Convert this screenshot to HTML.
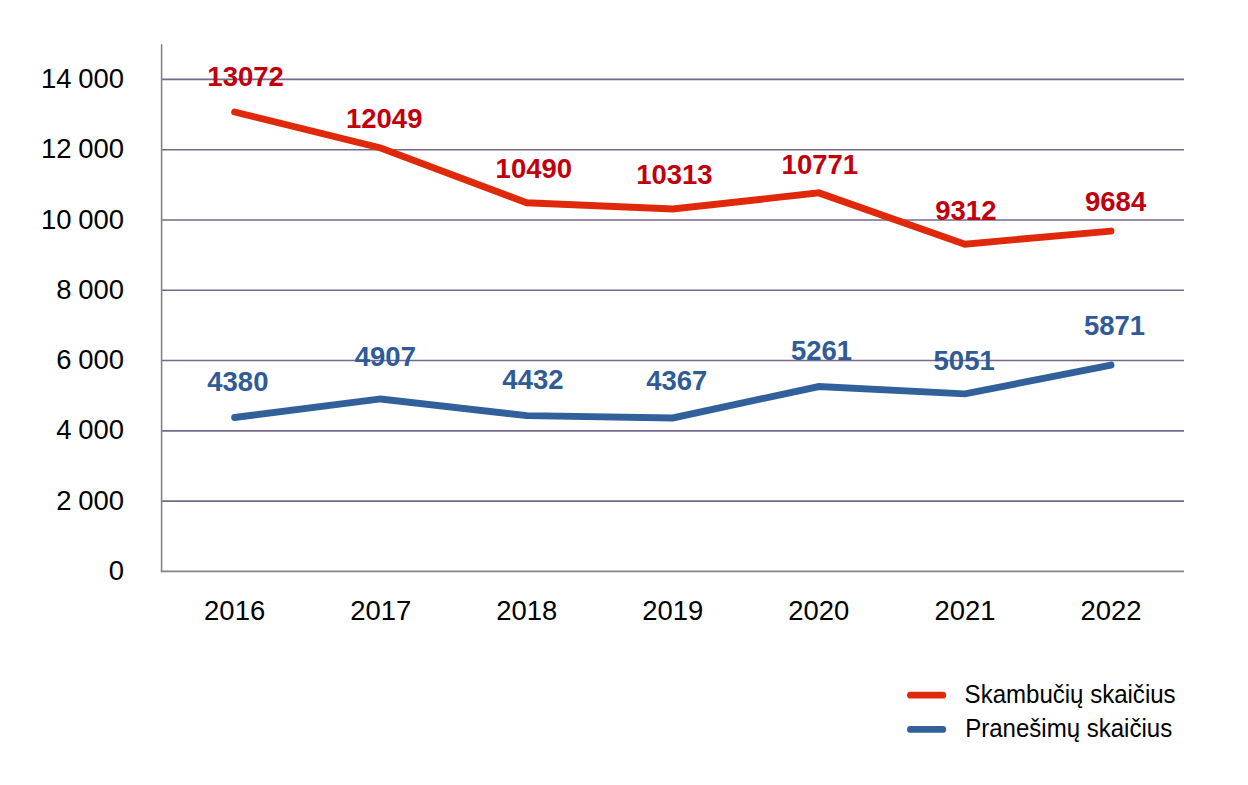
<!DOCTYPE html>
<html><head><meta charset="utf-8"><title>Chart</title>
<style>
html,body{margin:0;padding:0;background:#fff;}
body{width:1248px;height:785px;overflow:hidden;font-family:"Liberation Sans",sans-serif;}
svg{display:block;}
</style></head><body>
<svg width="1248" height="785" viewBox="0 0 1248 785">
<rect width="1248" height="785" fill="#ffffff"/>
<line x1="161.60" y1="501.11" x2="1184.00" y2="501.11" stroke="#74688c" stroke-width="1.6"/>
<line x1="161.60" y1="430.83" x2="1184.00" y2="430.83" stroke="#74688c" stroke-width="1.6"/>
<line x1="161.60" y1="360.54" x2="1184.00" y2="360.54" stroke="#74688c" stroke-width="1.6"/>
<line x1="161.60" y1="290.26" x2="1184.00" y2="290.26" stroke="#74688c" stroke-width="1.6"/>
<line x1="161.60" y1="219.97" x2="1184.00" y2="219.97" stroke="#74688c" stroke-width="1.6"/>
<line x1="161.60" y1="149.69" x2="1184.00" y2="149.69" stroke="#74688c" stroke-width="1.6"/>
<line x1="161.60" y1="79.40" x2="1184.00" y2="79.40" stroke="#74688c" stroke-width="1.6"/>
<line x1="161.60" y1="44.26" x2="161.60" y2="572.20" stroke="#858585" stroke-width="1.6"/>
<line x1="160.80" y1="571.40" x2="1184.00" y2="571.40" stroke="#858585" stroke-width="1.6"/>
<g font-family="Liberation Sans, sans-serif" font-size="28.0" fill="#000" text-anchor="end" word-spacing="-1">
<text transform="translate(124.0,580.00) scale(0.98,1)">0</text>
<text transform="translate(124.0,509.71) scale(0.98,1)">2 000</text>
<text transform="translate(124.0,439.43) scale(0.98,1)">4 000</text>
<text transform="translate(124.0,369.14) scale(0.98,1)">6 000</text>
<text transform="translate(124.0,298.86) scale(0.98,1)">8 000</text>
<text transform="translate(124.0,228.57) scale(0.98,1)">10 000</text>
<text transform="translate(124.0,158.29) scale(0.98,1)">12 000</text>
<text transform="translate(124.0,88.00) scale(0.98,1)">14 000</text>
</g>
<g font-family="Liberation Sans, sans-serif" font-size="28.0" fill="#000" text-anchor="middle">
<text transform="translate(234.63,620.0) scale(0.98,1)">2016</text>
<text transform="translate(380.69,620.0) scale(0.98,1)">2017</text>
<text transform="translate(526.74,620.0) scale(0.98,1)">2018</text>
<text transform="translate(672.80,620.0) scale(0.98,1)">2019</text>
<text transform="translate(818.86,620.0) scale(0.98,1)">2020</text>
<text transform="translate(964.91,620.0) scale(0.98,1)">2021</text>
<text transform="translate(1110.97,620.0) scale(0.98,1)">2022</text>
</g>
<polyline points="234.63,112.01 380.69,147.96 526.74,202.75 672.80,208.97 818.86,192.88 964.91,244.15 1110.97,231.08" fill="none" stroke="#e0290a" stroke-width="6.9" stroke-linecap="round" stroke-linejoin="miter"/>
<polyline points="234.63,417.47 380.69,398.95 526.74,415.65 672.80,417.93 818.86,386.51 964.91,393.89 1110.97,365.08" fill="none" stroke="#31609b" stroke-width="6.9" stroke-linecap="round" stroke-linejoin="miter"/>
<g font-family="Liberation Sans, sans-serif" font-weight="bold" font-size="28.2" fill="#c0000c" text-anchor="middle">
<text transform="translate(245.60,86.00) scale(0.976,1)">13072</text>
<text transform="translate(384.20,128.10) scale(0.976,1)">12049</text>
<text transform="translate(533.85,178.10) scale(0.976,1)">10490</text>
<text transform="translate(674.40,183.80) scale(0.976,1)">10313</text>
<text transform="translate(819.85,174.40) scale(0.976,1)">10771</text>
<text transform="translate(965.85,219.70) scale(0.976,1)">9312</text>
<text transform="translate(1115.60,211.20) scale(0.976,1)">9684</text>
</g>
<g font-family="Liberation Sans, sans-serif" font-weight="bold" font-size="28.2" fill="#2f5b96" text-anchor="middle">
<text transform="translate(237.85,390.80) scale(0.976,1)">4380</text>
<text transform="translate(385.35,365.80) scale(0.976,1)">4907</text>
<text transform="translate(532.95,388.80) scale(0.976,1)">4432</text>
<text transform="translate(676.80,389.80) scale(0.976,1)">4367</text>
<text transform="translate(821.50,359.90) scale(0.976,1)">5261</text>
<text transform="translate(964.15,369.50) scale(0.976,1)">5051</text>
<text transform="translate(1114.50,335.10) scale(0.976,1)">5871</text>
</g>
<line x1="910.4" y1="695.2" x2="942.8" y2="695.2" stroke="#e0290a" stroke-width="6.7" stroke-linecap="round"/>
<line x1="910.4" y1="729.4" x2="942.8" y2="729.4" stroke="#31609b" stroke-width="6.7" stroke-linecap="round"/>
<g font-family="Liberation Sans, sans-serif" font-size="25.5" fill="#000">
<text transform="translate(964.6,702.8) scale(0.943,1)">Skambučių skaičius</text>
<text transform="translate(965.2,736.6) scale(0.943,1)">Pranešimų skaičius</text>
</g>
</svg>
</body></html>
